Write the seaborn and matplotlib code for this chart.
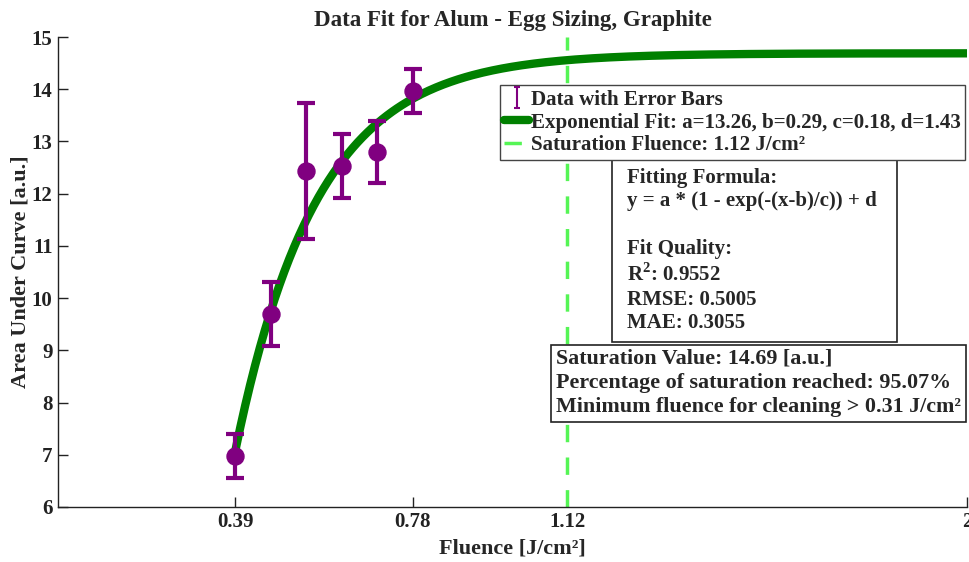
import numpy as np
import pandas as pd
import matplotlib.pyplot as plt
import seaborn as sns
from matplotlib.patches import Rectangle

# measured data
fluence = [0.39, 0.468, 0.546, 0.624, 0.702, 0.78]
area = [6.97, 9.69, 12.43, 12.53, 12.80, 13.97]
err = [0.42, 0.61, 1.30, 0.61, 0.60, 0.42]

# fit parameters
a, b, c, d = 13.26, 0.29, 0.18, 1.43
sat_fluence = 1.12
xticks = [0.39, 0.78, 1.12, 2]
xticklabels = ['0.39', '0.78', '1.12', '2']

sns.set_style('white')
plt.rcParams['font.family'] = ['Liberation Serif', 'DejaVu Serif']
plt.rcParams['font.weight'] = 'bold'
plt.rcParams['mathtext.fontset'] = 'custom'
plt.rcParams['mathtext.rm'] = 'Liberation Serif:bold'
plt.rcParams['mathtext.bf'] = 'Liberation Serif:bold'

purple = '#800080'
green = '#008000'
lime = '#55f555'

df = pd.DataFrame({'Fluence': fluence, 'Area': area, 'err': err})
xfit = np.linspace(min(fluence), 2, 300)
fit = pd.DataFrame({'x': xfit, 'y': a * (1 - np.exp(-(xfit - b) / c)) + d})

fig = plt.figure(figsize=(9.69, 5.62), dpi=100)
ax = fig.add_axes([0.06, 0.098, 0.938, 0.836])

ax.errorbar(df['Fluence'], df['Area'], yerr=df['err'], fmt='none', ecolor=purple,
            elinewidth=3, capsize=6.5, capthick=3, zorder=3)
sns.lineplot(data=fit, x='x', y='y', color=green, linewidth=6, ax=ax, zorder=2)
sns.scatterplot(data=df, x='Fluence', y='Area', color=purple, s=150, edgecolor=purple,
                ax=ax, zorder=4)
ax.axvline(sat_fluence, color=lime, linestyle=(0, (5, 4.4)), linewidth=2.5, zorder=1)

# legend proxies
h_err = ax.errorbar([np.nan], [np.nan], yerr=[0.1], fmt='none', ecolor=purple,
                    elinewidth=1.5, capsize=2.5, capthick=1.5)
h_fit, = ax.plot([], [], color=green, linewidth=6)
h_sat, = ax.plot([], [], color=lime, linewidth=2.5, linestyle=(0, (5, 4.4)))

ax.set_xlim(0, 2)
ax.set_ylim(6, 15)
ax.set_xticks(xticks)
ax.set_xticklabels(xticklabels)
ax.set_yticks(range(6, 16))
ax.tick_params(direction='in', length=7, width=1, labelsize=15, colors='#222222',
               bottom=True, left=True, pad=4)
for s in ['top', 'right']:
    ax.spines[s].set_visible(False)
for s in ['left', 'bottom']:
    ax.spines[s].set_color('#222222')
    ax.spines[s].set_linewidth(1)

ax.set_xlabel('Fluence [J/cm²]', fontsize=16, fontweight='bold', labelpad=4)
ax.set_ylabel('Area Under Curve [a.u.]', fontsize=16, fontweight='bold', labelpad=1)
ax.set_title('Data Fit for Alum - Egg Sizing, Graphite', fontsize=16.5, fontweight='bold', pad=8)

leg = ax.legend([h_err, h_fit, h_sat],
                ['Data with Error Bars', 'Exponential Fit: a=13.26, b=0.29, c=0.18, d=1.43',
                 'Saturation Fluence: 1.12 J/cm²'],
                loc='upper left', bbox_to_anchor=(0.486, 0.897), fontsize=15.1, frameon=True,
                fancybox=False, edgecolor='#444444', handlelength=1.15, handletextpad=0.1,
                borderpad=0.22, labelspacing=0.12, borderaxespad=0)
leg.get_frame().set_linewidth(1)
leg.get_frame().set_alpha(1)

# annotation boxes
ax.add_patch(Rectangle((0.6095, 0.351), 0.3135, 0.387, transform=ax.transAxes,
                       facecolor='white', edgecolor='#222222', linewidth=1.2, zorder=5))
ax.text(0.626, 0.722,
        'Fitting Formula:\ny = a * (1 - exp(-(x-b)/c)) + d\n\nFit Quality:\n'
        'R$^{2}$: 0.9552\nRMSE: 0.5005\nMAE: 0.3055',
        transform=ax.transAxes, fontsize=15, fontweight='bold', va='top', ha='left',
        linespacing=1.25, zorder=6)
ax.add_patch(Rectangle((0.5424, 0.181), 0.4565, 0.1637, transform=ax.transAxes,
                       facecolor='white', edgecolor='#222222', linewidth=1.2, zorder=5,
                       clip_on=False))
ax.text(0.548, 0.338,
        'Saturation Value: 14.69 [a.u.]\nPercentage of saturation reached: 95.07%\n'
        'Minimum fluence for cleaning > 0.31 J/cm²',
        transform=ax.transAxes, fontsize=15.8, fontweight='bold', va='top', ha='left',
        linespacing=1.3, zorder=6)

fig.savefig('out.png', dpi=100)
